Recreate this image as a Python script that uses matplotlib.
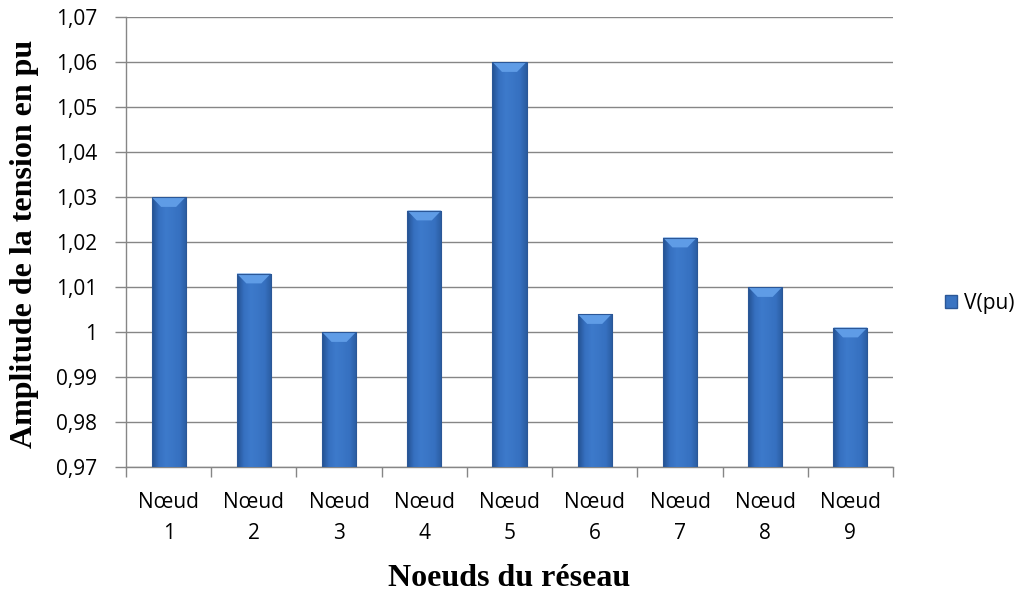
import matplotlib
matplotlib.use("Agg")
import matplotlib.pyplot as plt
import numpy as np
from matplotlib.colors import LinearSegmentedColormap
from matplotlib.patches import Polygon, Patch

categories = ["Nœud\n1", "Nœud\n2", "Nœud\n3", "Nœud\n4", "Nœud\n5",
              "Nœud\n6", "Nœud\n7", "Nœud\n8", "Nœud\n9"]
values = [1.03, 1.013, 1.0, 1.027, 1.06, 1.004, 1.021, 1.01, 1.001]
series_name = "V(pu)"
yticks = [0.97, 0.98, 0.99, 1.0, 1.01, 1.02, 1.03, 1.04, 1.05, 1.06, 1.07]
ytick_labels = ["0,97", "0,98", "0,99", "1", "1,01", "1,02", "1,03",
                "1,04", "1,05", "1,06", "1,07"]

tick_font = "Open Sans"
title_font = "Liberation Serif"
tick_size = 15

fig = plt.figure(figsize=(10.18, 5.97), dpi=100)
ax = fig.add_axes([126/1018, 1-467/597, (893-126)/1018, (467-17)/597])

x = np.arange(len(categories))
bars = ax.bar(x, values, width=0.4, bottom=0, color="#3a74c2",
              edgecolor="#2b5797", linewidth=0.8, zorder=3)

ax.set_ylim(0.97, 1.07)
ax.set_xlim(-0.5, len(categories)-0.5)

cmap = LinearSegmentedColormap.from_list(
    "bar", ["#23508f", "#3670c0", "#3d7acb", "#3a76c6", "#3670c0", "#2a5c9f"])
grad = np.linspace(0, 1, 256).reshape(1, -1)
for b in bars:
    x0, w = b.get_x(), b.get_width()
    top = b.get_y() + b.get_height()
    im = ax.imshow(grad, extent=[x0, x0+w, 0.97, top], aspect="auto",
                   cmap=cmap, zorder=3.5, origin="lower")
    im.set_clip_path(b)
    bh = 0.0022
    inset = w*0.28
    poly = Polygon([[x0, top], [x0+w, top], [x0+w-inset, top-bh], [x0+inset, top-bh]],
                   closed=True, facecolor="#5f9ce6", edgecolor="none", zorder=4)
    ax.add_patch(poly)
    b.set_facecolor("none")
    b.set_zorder(4.5)

ax.set_yticks(yticks)
ax.set_yticklabels(ytick_labels, fontfamily=tick_font, fontsize=tick_size)
ax.set_xticks(x)
ax.set_xticklabels(categories, fontfamily=tick_font, fontsize=tick_size, linespacing=1.6)
ax.set_xticks(np.arange(-0.5, len(categories)), minor=True)
ax.tick_params(axis="x", which="major", length=0, pad=18)
ax.tick_params(axis="x", which="minor", length=7, color="#868686", width=1, direction="out")
ax.tick_params(axis="y", length=8, color="#868686", width=1, direction="out", pad=13)

ax.grid(axis="y", color="#868686", linewidth=1, zorder=0)
ax.set_axisbelow(True)
for s in ["top", "right"]:
    ax.spines[s].set_visible(False)
for s in ["left", "bottom"]:
    ax.spines[s].set_color("#868686")
    ax.spines[s].set_linewidth(1)

ax.set_ylabel("Amplitude de la tension en pu", fontfamily=title_font,
              fontweight="bold", fontsize=23, va="center")
ax.yaxis.set_label_coords((25-126)/767, (467-244)/450)
ax.set_xlabel("Noeuds du réseau", fontfamily=title_font,
              fontweight="bold", fontsize=23, va="center")
ax.xaxis.set_label_coords(0.5, (467-579)/450)

handle = Patch(facecolor="#3a74c2", edgecolor="#2b5797")
fig.legend([handle], [series_name], loc="center left",
           bbox_to_anchor=(926/1018, 1-303/597), frameon=False,
           prop={"family": tick_font, "size": tick_size},
           handlelength=0.6, handleheight=0.6, handletextpad=0.3)

fig.savefig("out.png", dpi=100)
